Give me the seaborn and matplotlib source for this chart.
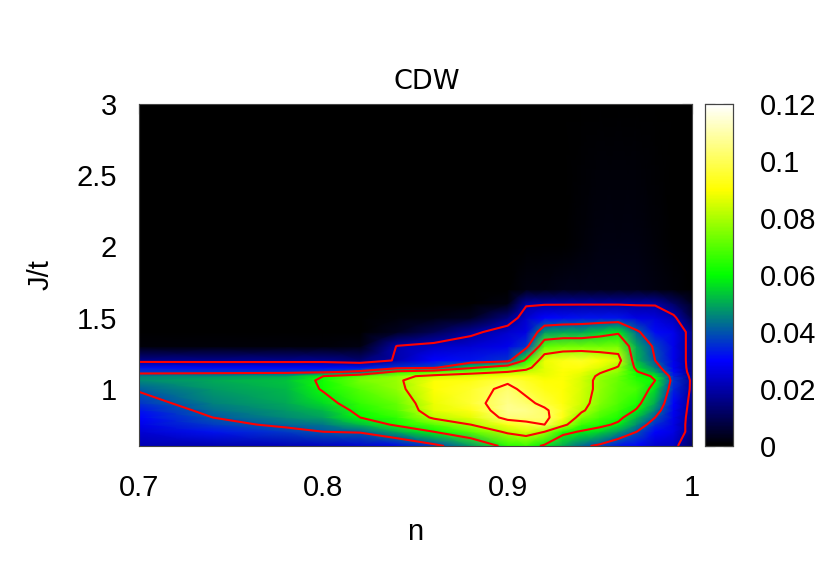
#!/usr/bin/env python3
"""CDW order parameter map over n and J/t, with contour lines."""

import numpy as np
import pandas as pd
import matplotlib.pyplot as plt
from matplotlib.colors import LinearSegmentedColormap
import seaborn as sns

sns.set_theme(style="white")
plt.rcParams["font.family"] = ["Liberation Sans", "DejaVu Sans"]

# grid, denser where the map changes fast
n_vals = [0.70, 0.74, 0.78, 0.80, 0.82, 0.84, 0.86, 0.88, 0.90, 0.91, 0.92, 0.93, 0.94, 0.95, 0.96, 0.97, 0.98, 0.99, 1.00]
j_vals = [0.6, 0.7, 0.75, 0.8, 0.85, 0.9, 1.0, 1.06, 1.09, 1.12, 1.15, 1.2, 1.3, 1.4, 1.5, 1.6, 1.7, 2.0, 3.0]

# one list per n, going up in J
cdw_070 = [.021, .025, .028, .030, .032, .036, .041, .046, .045, .037, .032, .017, .001, 0, 0, 0, 0, 0, 0]
cdw_074 = [.021, .032, .037, .040, .043, .045, .048, .050, .047, .037, .031, .017, .001, 0, 0, 0, 0, 0, 0]
cdw_078 = [.022, .037, .042, .046, .048, .050, .052, .053, .050, .037, .031, .017, .001, 0, 0, 0, 0, 0, 0]
cdw_080 = [.023, .040, .044, .049, .052, .056, .061, .062, .060, .038, .031, .017, .001, 0, 0, 0, 0, 0, 0]
cdw_082 = [.025, .041, .052, .060, .063, .066, .070, .074, .070, .042, .032, .014, .002, 0, 0, 0, 0, 0, 0]
cdw_084 = [.028, .050, .062, .066, .070, .072, .077, .078, .077, .064, .036, .021, .0205, .004, .001, 0, 0, 0, 0]
cdw_086 = [.037, .060, .070, .082, .087, .088, .090, .090, .083, .070, .038, .030, .023, .010, .002, 0, 0, 0, 0]
cdw_088 = [.048, .070, .080, .087, .092, .096, .095, .092, .087, .075, .058, .032, .025, .018, .004, 0, 0, 0, 0]
cdw_090 = [.064, .082, .092, .104, .107, .106, .103, .098, .090, .080, .070, .036, .028, .024, .015, .002, 0, 0, 0]
cdw_091 = [.066, .086, .097, .104, .106, .103, .097, .094, .091, .083, .077, .063, .036, .027, .024, .019, .002, 0, 0]
cdw_092 = [.058, .080, .100, .103, .102, .097, .092, .090, .088, .087, .087, .088, .070, .048, .030, .019, .002, 0, 0]
cdw_093 = [.050, .063, .084, .092, .093, .091, .090, .090, .090, .090, .091, .092, .073, .050, .031, .019, .003, 0, 0]
cdw_094 = [.042, .059, .067, .075, .082, .084, .085, .085, .086, .088, .091, .094, .073, .050, .032, .019, .003, .001, 0]
cdw_095 = [.038, .055, .063, .068, .072, .075, .077, .077, .078, .081, .086, .090, .073, .054, .032, .019, .003, .002, 0]
cdw_096 = [.032, .048, .058, .063, .067, .069, .071, .072, .073, .076, .079, .085, .074, .058, .032, .019, .003, .002, 0]
cdw_097 = [.030, .040, .046, .052, .059, .063, .068, .065, .063, .061, .057, .052, .050, .042, .027, .019, .003, .002, 0]
cdw_098 = [.024, .030, .035, .040, .045, .050, .056, .060, .059, .050, .045, .040, .038, .031, .026, .019, .002, .001, 0]
cdw_099 = [.0225, .027, .027, .028, .029, .030, .034, .036, .034, .031, .029, .028, .028, .028, .022, .012, .001, 0, 0]
cdw_100 = [.012, .016, .016, .016, .0165, .017, .018, .018, .017, .016, .016, .016, .016, .016, .008, .004, 0, 0, 0]

contour_levels = [0.02, 0.04, 0.06, 0.08, 0.10]
cbar_ticks = [0, 0.02, 0.04, 0.06, 0.08, 0.1, 0.12]
cbar_labels = ["0", "0.02", "0.04", "0.06", "0.08", "0.1", "0.12"]
x_ticks = [0.7, 0.8, 0.9, 1.0]
x_labels = ["0.7", "0.8", "0.9", "1"]
y_ticks = [1.0, 1.5, 2.0, 2.5, 3.0]
y_labels = ["1", "1.5", "2", "2.5", "3"]

df = pd.DataFrame(
    np.array([cdw_070, cdw_074, cdw_078, cdw_080, cdw_082, cdw_084, cdw_086, cdw_088, cdw_090, cdw_091,
              cdw_092, cdw_093, cdw_094, cdw_095, cdw_096, cdw_097, cdw_098, cdw_099, cdw_100]).T,
    index=j_vals, columns=n_vals)

cmap = LinearSegmentedColormap.from_list("cdw", [
    (0.0, "#000000"), (0.25, "#0000ff"), (0.5, "#00ff00"), (0.75, "#ffff00"), (1.0, "#ffffff")], N=256)

W, H = 830, 581
fig = plt.figure(figsize=(W / 100, H / 100), dpi=100)
ax = fig.add_axes([139 / W, 1 - 446 / H, 553 / W, 342 / H])
cax = fig.add_axes([705 / W, 1 - 446 / H, 28 / W, 342 / H])

sns.heatmap(df, ax=ax, cbar_ax=cax, cmap=cmap, vmin=0, vmax=0.12, shading="gouraud",
            xticklabels=False, yticklabels=False, cbar_kws={"ticks": cbar_ticks})
ax.contour(df.values, levels=contour_levels, colors="red", linewidths=1.5)

# heatmap works in row/column numbers, so stretch them back to real n and J
col_idx = np.arange(len(n_vals))
row_idx = np.arange(len(j_vals))
ax.set_xscale("function", functions=(lambda i: np.interp(i, col_idx, n_vals),
                                     lambda v: np.interp(v, n_vals, col_idx)))
ax.set_yscale("function", functions=(lambda i: np.interp(i, row_idx, j_vals),
                                     lambda v: np.interp(v, j_vals, row_idx)))
ax.set_xlim(0, len(n_vals) - 1)
ax.set_ylim(0, len(j_vals) - 1)
ax.set_xticks(np.interp(x_ticks, n_vals, col_idx), x_labels)
ax.set_yticks(np.interp(y_ticks, j_vals, row_idx), y_labels)
ax.minorticks_off()
ax.tick_params(axis="x", direction="in", length=7, width=0.8, color="black", top=True,
               labelsize=21, pad=20, labelcolor="black")
ax.tick_params(axis="y", direction="in", length=7, width=0.8, color="black", right=True,
               labelsize=21, pad=16, labelcolor="black")
ax.set_xlabel("n", fontsize=21, labelpad=12, color="black")
ax.set_ylabel("J/t", fontsize=21, labelpad=16, color="black")
ax.set_title("CDW", fontsize=19.5, pad=11, color="black", family="DejaVu Sans", x=0.52)
for spine in ax.spines.values():
    spine.set_visible(True)
    spine.set_color("#444444")
    spine.set_linewidth(0.8)

cax.set_yticklabels(cbar_labels)
cax.tick_params(direction="in", length=7, width=0.8, color="black", left=True, right=True,
                labelsize=21, pad=19, labelcolor="black")
for spine in cax.spines.values():
    spine.set_visible(True)
    spine.set_color("#444444")
    spine.set_linewidth(0.8)

fig.savefig("out.png", dpi=100)
